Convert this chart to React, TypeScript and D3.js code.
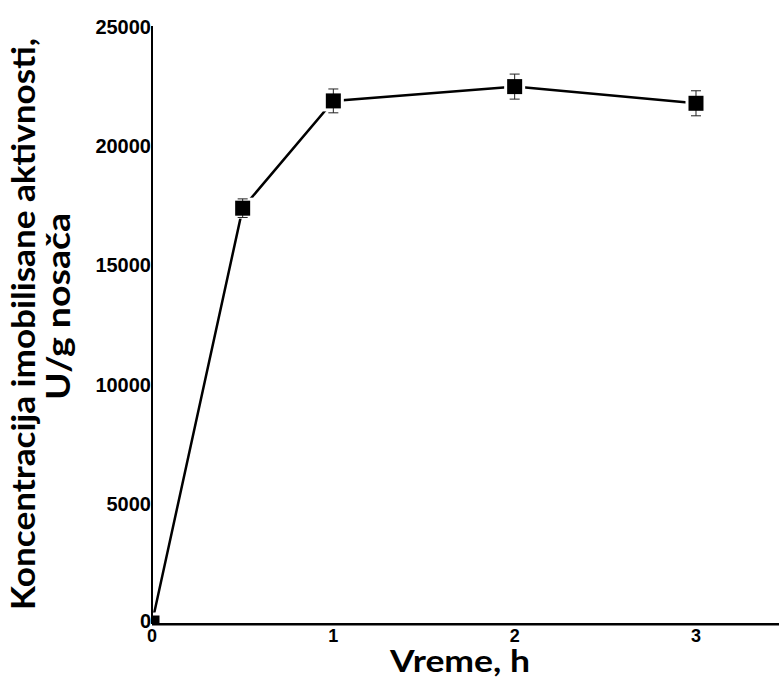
import React from "react";
import * as d3 from "d3";

const times = [0, 0.5, 1, 2, 3];
const values = [0, 17400, 21900, 22500, 21800];
const errors = [0, 390, 500, 525, 525];
const yTicks = [0, 5000, 10000, 15000, 20000, 25000];
const xTicks = [0, 1, 2, 3];
const xTitle = "Vreme, h";
const yTitle1 = "Koncentracija imobilisane aktivnosti,";
const yTitle2 = "U/g nosača";

const W = 779;
const H = 679;
const X0 = 152;
const Y0 = 623;
const UNIT = 181.33;

export default function App() {
  const x = d3.scaleLinear().domain([0, 3.5]).range([X0, X0 + 3.5 * UNIT]);
  const y = d3.scaleLinear().domain([0, 25000]).range([Y0, 27]);
  const pts = times.map((t, i) => ({ t, v: values[i], e: errors[i] }));
  const line = d3
    .line<{ t: number; v: number }>()
    .x((d) => x(d.t))
    .y((d) => y(d.v));
  const M = 15;
  const tickFont = "'Liberation Sans', Arial, sans-serif";
  const titleFont = "Lato, 'Open Sans', sans-serif";
  return (
    <svg
      width={W}
      height={H}
      style={{ position: "absolute", left: 0, top: 0, background: "#fff" }}
    >
      <defs>
        <clipPath id="plot">
          <rect x={X0} y={0} width={W - X0} height={Y0 + 1} />
        </clipPath>
      </defs>
      <rect x={0} y={0} width={W} height={H} fill="#fff" />
      <g clipPath="url(#plot)">
        <path d={line(pts) || ""} fill="none" stroke="#000" strokeWidth={2.5} />
        {pts.map((p, i) => (
          <rect
            key={"h" + i}
            x={x(p.t) - M / 2 - 3}
            y={y(p.v) - M / 2 - 3}
            width={M + 6}
            height={M + 6}
            fill="#fff"
          />
        ))}
        {pts.map((p, i) =>
          p.e > 0 ? (
            <g key={"e" + i} stroke="#222" strokeWidth={1}>
              <line x1={x(p.t)} x2={x(p.t)} y1={y(p.v + p.e)} y2={y(p.v - p.e)} />
              <line x1={x(p.t) - 5} x2={x(p.t) + 5} y1={y(p.v + p.e)} y2={y(p.v + p.e)} />
              <line x1={x(p.t) - 5} x2={x(p.t) + 5} y1={y(p.v - p.e)} y2={y(p.v - p.e)} />
            </g>
          ) : null
        )}
        {pts.map((p, i) => (
          <rect
            key={"m" + i}
            x={x(p.t) - M / 2}
            y={y(p.v) - M / 2}
            width={M}
            height={M}
            fill="#000"
          />
        ))}
      </g>
      <line x1={X0} x2={X0} y1={26} y2={Y0 + 1} stroke="#000" strokeWidth={2} />
      <line x1={X0} x2={W} y1={Y0 + 1.3} y2={Y0 + 1.3} stroke="#000" strokeWidth={2.4} />
      {yTicks.map((t) => (
        <text
          key={"y" + t}
          x={X0 - 1}
          y={y(t) - (t === 0 ? 2 : 0)}
          textAnchor="end"
          dominantBaseline="central"
          fontFamily={tickFont}
          fontWeight="bold"
          fontSize={20}
          fill="#000"
        >
          {t}
        </text>
      ))}
      {xTicks.map((t) => (
        <text
          key={"x" + t}
          x={x(t)}
          y={Y0 + 19}
          textAnchor="middle"
          fontFamily={tickFont}
          fontWeight="bold"
          fontSize={18}
          fill="#000"
        >
          {t}
        </text>
      ))}
      <text
        x={460}
        y={672}
        textAnchor="middle"
        fontFamily={titleFont}
        fontWeight="bold"
        fontSize={31}
        textLength={140}
        lengthAdjust="spacingAndGlyphs"
        fill="#000"
      >
        {xTitle}
      </text>
      <text
        transform="translate(35,324) rotate(-90)"
        textAnchor="middle"
        fontFamily={titleFont}
        fontWeight="bold"
        fontSize={32}
        textLength={572}
        lengthAdjust="spacingAndGlyphs"
        fill="#000"
      >
        {yTitle1}
      </text>
      <text
        transform="translate(70,306.5) rotate(-90)"
        textAnchor="middle"
        fontFamily={titleFont}
        fontWeight="bold"
        fontSize={32}
        textLength={187}
        lengthAdjust="spacingAndGlyphs"
        fill="#000"
      >
        {yTitle2}
      </text>
    </svg>
  );
}
